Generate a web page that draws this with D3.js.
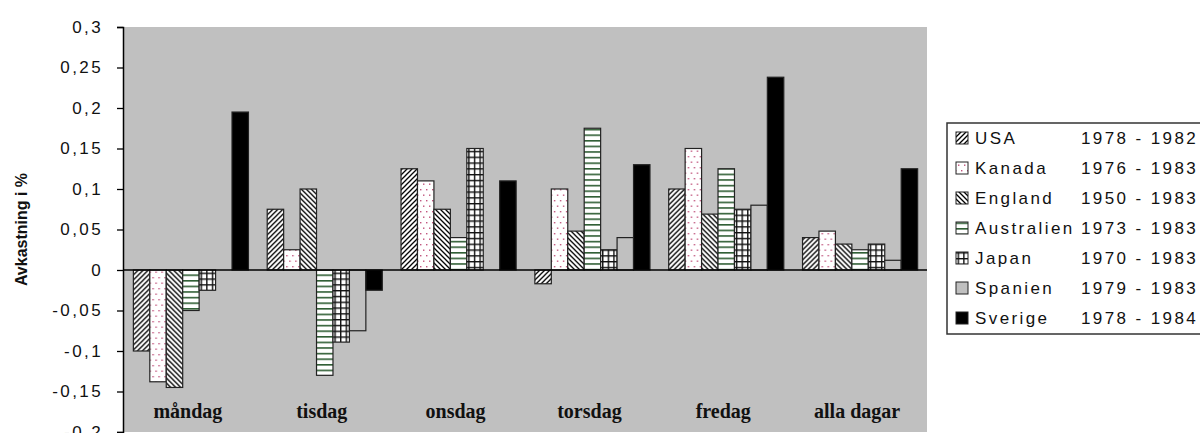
<!DOCTYPE html>
<html>
<head>
<meta charset="utf-8">
<script src="https://cdn.jsdelivr.net/npm/d3@7"></script>
<style>
  html, body { margin: 0; padding: 0; background: #fff; }
  svg { display: block; }
</style>
</head>
<body>
<script>
// Veckodagseffekter: genomsnittlig daglig avkastning per land och veckodag
const categories = ["måndag", "tisdag", "onsdag", "torsdag", "fredag", "alla dagar"];
const countries  = ["USA", "Kanada", "England", "Australien", "Japan", "Spanien", "Sverige"];
const periods    = ["1978 - 1982", "1976 - 1983", "1950 - 1983", "1973 - 1983", "1970 - 1983", "1979 - 1983", "1978 - 1984"];

const usa        = [-0.100,  0.075,  0.125, -0.017, 0.100, 0.040];
const kanada     = [-0.138,  0.025,  0.110,  0.100, 0.150, 0.048];
const england    = [-0.145,  0.100,  0.075,  0.048, 0.069, 0.032];
const australien = [-0.050, -0.130,  0.040,  0.175, 0.125, 0.025];
const japan      = [-0.025, -0.089,  0.150,  0.025, 0.075, 0.032];
const spanien    = [ 0.000, -0.075,  0.000,  0.040, 0.080, 0.012];
const sverige    = [ 0.195, -0.025,  0.110,  0.130, 0.238, 0.125];

const yTicks = [0.3, 0.25, 0.2, 0.15, 0.1, 0.05, 0, -0.05, -0.1, -0.15, -0.2];
const yTitle = "Avkastning i %";

const seriesValues = [usa, kanada, england, australien, japan, spanien, sverige];

const W = 1200, H = 433;
const plot = { left: 124, right: 927, top: 27, bottom: 432 };
const bg = "#c0c0c0";
const sansFont = "Arial, 'Liberation Sans', sans-serif";
const serifFont = "'Times New Roman', 'Liberation Serif', serif";

const svg = d3.select("body").append("svg")
  .attr("width", W).attr("height", H);

svg.append("rect").attr("width", W).attr("height", H).attr("fill", "#fff");

// ---- fill patterns ----
const defs = svg.append("defs");

function patternBase(id, w, h) {
  const p = defs.append("pattern")
    .attr("id", id).attr("patternUnits", "userSpaceOnUse")
    .attr("width", w).attr("height", h);
  p.append("rect").attr("width", w).attr("height", h).attr("fill", "#fff");
  return p;
}

// USA: forward diagonal hatch
{
  const s = 5;
  const p = patternBase("pat-usa", s, s);
  p.append("path")
    .attr("d", `M-1,1 l2,-2 M0,${s} l${s},-${s} M${s - 1},${s + 1} l2,-2`)
    .attr("stroke", "#000").attr("stroke-width", 1.3);
}
// Kanada: sparse dots
{
  const p = patternBase("pat-kanada", 6, 11);
  p.append("rect").attr("x", 1).attr("y", 2).attr("width", 1.4).attr("height", 1.4).attr("fill", "#c0507a");
  p.append("rect").attr("x", 4).attr("y", 7.5).attr("width", 1.4).attr("height", 1.4).attr("fill", "#c0507a");
}
// England: backward diagonal hatch
{
  const s = 5;
  const p = patternBase("pat-england", s, s);
  p.append("path")
    .attr("d", `M-1,${s - 1} l2,2 M0,0 l${s},${s} M${s - 1},-1 l2,2`)
    .attr("stroke", "#000").attr("stroke-width", 1.3);
}
// Australien: horizontal green lines
{
  const p = patternBase("pat-australien", 6, 5.6);
  p.append("rect").attr("x", 0).attr("y", 0).attr("width", 6).attr("height", 1.6).attr("fill", "#2f5e34");
}
// Japan: grid
{
  const p = patternBase("pat-japan", 5.6, 5.8);
  p.append("rect").attr("x", 0).attr("y", 0).attr("width", 5.6).attr("height", 1.4).attr("fill", "#111");
  p.append("rect").attr("x", 0).attr("y", 0).attr("width", 1.4).attr("height", 5.8).attr("fill", "#111");
}

const fills = ["url(#pat-usa)", "url(#pat-kanada)", "url(#pat-england)", "url(#pat-australien)",
               "url(#pat-japan)", bg, "#000"];

// ---- scales ----
const x0 = d3.scaleBand().domain(categories)
  .range([plot.left, plot.right]).paddingInner(0.14).paddingOuter(0.07);
const x1 = d3.scaleBand().domain(countries).range([0, x0.bandwidth()]);
const y = d3.scaleLinear().domain([-0.2, 0.3]).range([plot.bottom, plot.top]);

// plot area
svg.append("rect")
  .attr("x", plot.left).attr("y", y(0.3))
  .attr("width", plot.right - plot.left).attr("height", y(-0.2) - y(0.3))
  .attr("fill", bg);

// ---- bars ----
const groups = svg.append("g").selectAll("g")
  .data(categories)
  .join("g")
  .attr("transform", d => `translate(${x0(d)},0)`);

groups.selectAll("rect")
  .data((cat, ci) => countries.map((c, si) => ({ c, si, v: seriesValues[si][ci] })))
  .join("rect")
  .attr("x", d => x1(d.c))
  .attr("y", d => y(Math.max(0, d.v)))
  .attr("width", x1.bandwidth())
  .attr("height", d => Math.abs(y(d.v) - y(0)))
  .attr("fill", d => fills[d.si])
  .attr("stroke", "#222")
  .attr("stroke-width", 1.2);

// zero line
svg.append("line")
  .attr("x1", plot.left - 1).attr("x2", plot.right)
  .attr("y1", y(0)).attr("y2", y(0))
  .attr("stroke", "#000").attr("stroke-width", 1.5);

// ---- y axis ----
const yAxis = d3.axisLeft(y)
  .tickValues(yTicks)
  .tickSize(6)
  .tickPadding(14)
  .tickFormat(d => d3.format(".2~f")(d).replace(".", ",").replace("−", "-"));

const ya = svg.append("g")
  .attr("transform", `translate(${plot.left - 1},0)`)
  .call(yAxis);
ya.select(".domain").attr("stroke", "#000").attr("stroke-width", 1.5);
ya.selectAll(".tick line").attr("stroke", "#000").attr("stroke-width", 1.3);
ya.selectAll(".tick text")
  .attr("font-family", sansFont)
  .attr("font-size", 17)
  .attr("letter-spacing", 2.4)
  .attr("fill", "#111");

svg.append("text")
  .attr("transform", `translate(27,${(y(0.3) + y(-0.2)) / 2}) rotate(-90)`)
  .attr("text-anchor", "middle")
  .attr("font-family", sansFont)
  .attr("font-weight", "bold")
  .attr("font-size", 16)
  .attr("fill", "#111")
  .text(yTitle);

// ---- category labels ----
svg.append("g").selectAll("text")
  .data(categories)
  .join("text")
  .attr("x", d => x0(d) + x0.bandwidth() / 2 - 3)
  .attr("y", 418)
  .attr("text-anchor", "middle")
  .attr("font-family", serifFont)
  .attr("font-weight", "bold")
  .attr("font-size", 20)
  .attr("fill", "#111")
  .text(d => d);

// ---- legend ----
const lg = svg.append("g");
const rowH = 30, lgTop = 123, firstRow = 138;
lg.append("rect")
  .attr("x", 947).attr("y", lgTop)
  .attr("width", 300).attr("height", firstRow - lgTop + rowH * (countries.length - 1) + 16)
  .attr("fill", "#fff").attr("stroke", "#333").attr("stroke-width", 1.5);

const rows = lg.selectAll("g.row")
  .data(countries)
  .join("g")
  .attr("class", "row")
  .attr("transform", (d, i) => `translate(0,${firstRow + i * rowH})`);

rows.append("rect")
  .attr("x", 956).attr("y", -6).attr("width", 12).attr("height", 12)
  .attr("fill", (d, i) => fills[i])
  .attr("stroke", "#222").attr("stroke-width", 1);

rows.append("text")
  .attr("x", 975).attr("dy", "0.36em")
  .attr("font-family", sansFont).attr("font-size", 17)
  .attr("letter-spacing", 2.4).attr("fill", "#111")
  .text(d => d);

rows.append("text")
  .attr("x", 1081).attr("dy", "0.36em")
  .attr("font-family", sansFont).attr("font-size", 17)
  .attr("letter-spacing", 2.4).attr("fill", "#111")
  .text((d, i) => periods[i]);
</script>
</body>
</html>
